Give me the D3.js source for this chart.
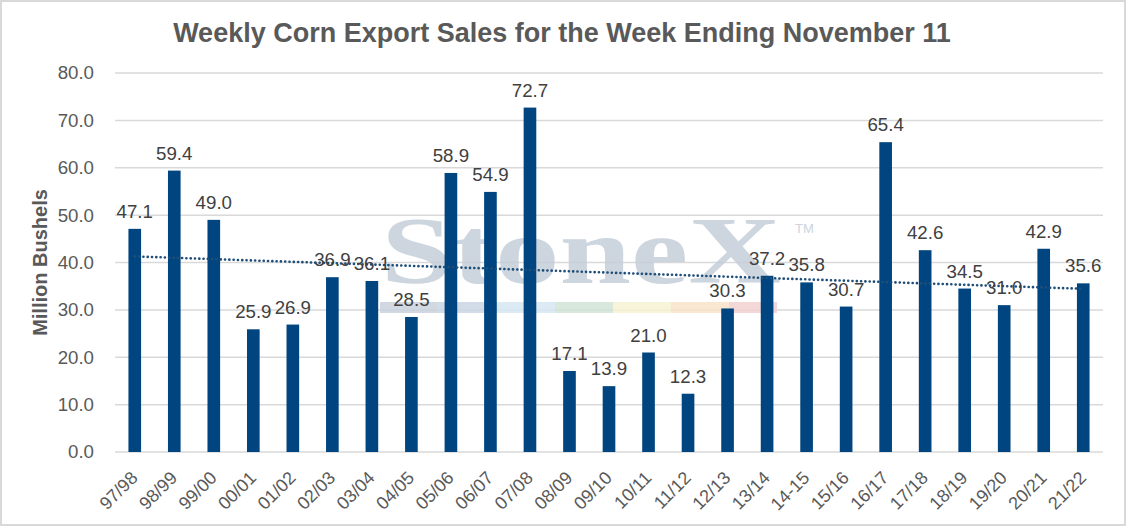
<!DOCTYPE html>
<html>
<head>
<meta charset="utf-8">
<script src="https://cdn.jsdelivr.net/npm/d3@7"></script>
<style>
  body { margin: 0; background: #fff; }
  text { font-family: "Liberation Sans", Arial, sans-serif; }
</style>
</head>
<body>
<div class="chart"></div>
<script>
const W = 1127, H = 527
const margin = ({top: 73, right: 24, bottom: 75, left: 115})
const width = W - margin.left - margin.right
const height = H - margin.top - margin.bottom

// chart data
const seasons = ['97/98','98/99','99/00','00/01','01/02','02/03','03/04','04/05','05/06','06/07',
  '07/08','08/09','09/10','10/11','11/12','12/13','13/14','14-15','15/16','16/17',
  '17/18','18/19','19/20','20/21','21/22']
const sales = [47.1, 59.4, 49.0, 25.9, 26.9, 36.9, 36.1, 28.5, 58.9, 54.9,
  72.7, 17.1, 13.9, 21.0, 12.3, 30.3, 37.2, 35.8, 30.7, 65.4,
  42.6, 34.5, 31.0, 42.9, 35.6]
const yTicks = [0, 10, 20, 30, 40, 50, 60, 70, 80]

const svgRoot = d3.select('.chart').append('svg')
    .attr('width', W)
    .attr('height', H)

svgRoot.append('rect')
    .attr('x', 1).attr('y', 1)
    .attr('width', W - 3).attr('height', H - 3)
    .attr('fill', '#fff')
    .attr('stroke', '#d9d9d9')
    .attr('stroke-width', 2)

svgRoot.append('text')
    .attr('x', 562)
    .attr('y', 42)
    .attr('text-anchor', 'middle')
    .style('font-size', '27px')
    .style('font-weight', 'bold')
    .style('fill', '#595959')
    .text('Weekly Corn Export Sales for the Week Ending November 11')

const svg = svgRoot.append('g')
    .attr('transform', `translate(${margin.left},${margin.top})`)

const xScale = d3.scaleBand()
    .domain(seasons)
    .range([0, width])
    .paddingInner(0.68)
    .paddingOuter(0.34)

const yScale = d3.scaleLinear()
    .domain([0, 80])
    .range([height, 0])

// gridlines
svg.append('g')
    .selectAll('line')
    .data(yTicks)
    .join('line')
    .attr('x1', 0).attr('x2', width)
    .attr('y1', d => yScale(d)).attr('y2', d => yScale(d))
    .attr('stroke', '#d9d9d9')
    .attr('stroke-width', 1.5)

// watermark
const wm = svg.append('g').attr('opacity', 0.85)
const strip = ['#c9d2dd', '#cbd7e6', '#d6e7f3', '#d2e4d7', '#f7f3d4', '#f9e3c9', '#f3d2d2']
const stripX = [265, 322, 382, 440, 498, 556, 614, 662]
wm.selectAll('rect')
    .data(strip)
    .join('rect')
    .attr('x', (d, i) => stripX[i])
    .attr('y', 229)
    .attr('width', (d, i) => stripX[i + 1] - stripX[i])
    .attr('height', 11)
    .attr('fill', d => d)
wm.append('text')
    .attr('x', 266)
    .attr('y', 210)
    .style('font-family', '"Liberation Serif", "DejaVu Serif", serif')
    .style('font-size', '96px')
    .style('font-weight', 'bold')
    .style('fill', '#c5ced9')
    .attr('textLength', 400)
    .attr('lengthAdjust', 'spacingAndGlyphs')
    .text('StoneX')
wm.append('text')
    .attr('x', 680)
    .attr('y', 160)
    .style('font-size', '13px')
    .style('fill', '#c5ced9')
    .text('TM')

// bars
svg.append('g')
    .selectAll('rect')
    .data(sales)
    .join('rect')
    .attr('x', (d, i) => xScale(seasons[i]))
    .attr('y', d => yScale(d))
    .attr('width', xScale.bandwidth())
    .attr('height', d => height - yScale(d))
    .attr('fill', '#00457f')

// linear trendline
const xs = sales.map((d, i) => i + 1)
const mx = d3.mean(xs), my = d3.mean(sales)
const slope = d3.sum(xs, (x, i) => (x - mx) * (sales[i] - my)) / d3.sum(xs, x => (x - mx) ** 2)
const icpt = my - slope * mx
const cx = s => xScale(s) + xScale.bandwidth() / 2
svg.append('line')
    .attr('x1', cx(seasons[0]))
    .attr('x2', cx(seasons[seasons.length - 1]))
    .attr('y1', yScale(icpt + slope * 1))
    .attr('y2', yScale(icpt + slope * seasons.length))
    .attr('stroke', '#1f4e79')
    .attr('stroke-width', 2.6)
    .attr('stroke-dasharray', '0.1,4.2')
    .attr('stroke-linecap', 'round')

// data labels
svg.append('g')
    .selectAll('text')
    .data(sales)
    .join('text')
    .attr('x', (d, i) => cx(seasons[i]))
    .attr('y', d => yScale(d) - 11)
    .attr('text-anchor', 'middle')
    .style('font-size', '18.7px')
    .style('fill', '#404040')
    .text(d => d.toFixed(1))

// y axis labels
const yAxis = d3.axisLeft(yScale)
    .tickValues(yTicks)
    .tickFormat(d3.format('.1f'))
    .tickSize(0)
    .tickPadding(21)
svg.append('g')
    .attr('class', 'axis y-axis')
    .call(yAxis)
    .call(g => g.select('.domain').remove())
    .selectAll('text')
    .style('font-size', '18.7px')
    .style('font-family', '"Liberation Sans", Arial, sans-serif')
    .style('fill', '#595959')

// x axis labels
const xAxis = d3.axisBottom(xScale).tickSize(0).tickPadding(0)
svg.append('g')
    .attr('class', 'axis x-axis')
    .attr('transform', `translate(0, ${height})`)
    .call(xAxis)
    .call(g => g.select('.domain').remove())
    .selectAll('text')
    .attr('text-anchor', 'end')
    .attr('dy', null)
    .attr('y', 0)
    .attr('transform', 'translate(4, 27) rotate(-45)')
    .style('font-size', '18px')
    .style('font-family', '"Liberation Sans", Arial, sans-serif')
    .style('fill', '#595959')

svgRoot.append('text')
    .attr('transform', `translate(47, ${margin.top + height / 2}) rotate(-90)`)
    .attr('text-anchor', 'middle')
    .style('font-size', '20px')
    .style('font-weight', 'bold')
    .style('fill', '#595959')
    .text('Million Bushels')
</script>
</body>
</html>
